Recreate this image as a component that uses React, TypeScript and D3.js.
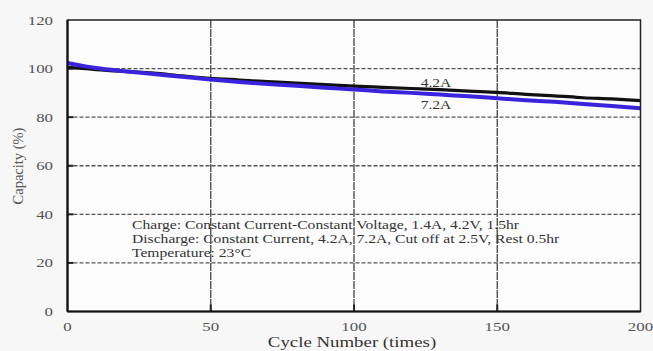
import * as d3 from "d3";
import React, { useEffect, useRef } from "react";

// cycle numbers sampled along the curves
const cycles = [0, 5, 10, 20, 30, 40, 50, 60, 70, 80, 90, 100, 110, 120, 130, 140, 150, 160, 170, 180, 190, 200];
// capacity (%) for the 4.2A discharge
const cap42 = [100.5, 100.1, 99.6, 98.8, 98.1, 97.0, 96.0, 95.3, 94.6, 94.0, 93.4, 92.8, 92.3, 91.8, 91.3, 90.7, 90.2, 89.4, 88.8, 88.0, 87.5, 86.8];
// capacity (%) for the 7.2A discharge
const cap72 = [102.3, 101.2, 100.2, 98.9, 97.8, 96.6, 95.5, 94.5, 93.6, 92.9, 92.1, 91.4, 90.6, 90.0, 89.3, 88.6, 87.8, 87.0, 86.3, 85.4, 84.6, 83.7];

const xTicks = [0, 50, 100, 150, 200];
const yTicks = [0, 20, 40, 60, 80, 100, 120];

const notes = [
  "Charge: Constant Current-Constant Voltage, 1.4A, 4.2V, 1.5hr",
  "Discharge: Constant Current, 4.2A, 7.2A, Cut off at 2.5V, Rest 0.5hr",
  "Temperature: 23\u00b0C",
];

// the original scan is stretched sideways a bit
const stretch = 1.25;

export default function App() {
  const svgRef = useRef(null);
  const width = 653;
  const height = 351;
  const margin = { top: 20, right: 12.5, bottom: 39.5, left: 67.5 };

  useEffect(() => {
    const svg = d3.select(svgRef.current);
    svg.selectAll("*").remove();

    const x = d3.scaleLinear().domain([0, 200]).range([margin.left, width - margin.right]);
    const y = d3.scaleLinear().domain([0, 120]).range([height - margin.bottom, margin.top]);

    svg.append("rect").attr("width", width).attr("height", height).attr("fill", "#f7f7f7");
    svg
      .append("rect")
      .attr("x", x(0))
      .attr("y", y(120))
      .attr("width", x(200) - x(0))
      .attr("height", y(0) - y(120))
      .attr("fill", "#fcfcfc");

    // grid
    const grid = svg.append("g");
    grid
      .selectAll("line.h")
      .data(yTicks.filter((d) => d > 0 && d < 120))
      .join("line")
      .attr("x1", x(0))
      .attr("x2", x(200))
      .attr("y1", (d) => y(d))
      .attr("y2", (d) => y(d))
      .attr("stroke", "#555")
      .attr("stroke-width", 1.3)
      .attr("stroke-dasharray", "4,2");
    grid
      .selectAll("line.v")
      .data(xTicks.filter((d) => d > 0 && d < 200))
      .join("line")
      .attr("x1", (d) => x(d))
      .attr("x2", (d) => x(d))
      .attr("y1", y(120))
      .attr("y2", y(0))
      .attr("stroke", "#444")
      .attr("stroke-width", 1.3)
      .attr("stroke-dasharray", "8,1");

    // short tick marks inside the frame
    grid
      .selectAll("line.yt")
      .data(yTicks.filter((d) => d > 0 && d < 120))
      .join("line")
      .attr("x1", x(0))
      .attr("x2", x(0) + 6)
      .attr("y1", (d) => y(d))
      .attr("y2", (d) => y(d))
      .attr("stroke", "#222")
      .attr("stroke-width", 2);
    grid
      .selectAll("line.xt")
      .data(xTicks.filter((d) => d > 0 && d < 200))
      .join("line")
      .attr("x1", (d) => x(d))
      .attr("x2", (d) => x(d))
      .attr("y1", y(0))
      .attr("y2", y(0) - 7)
      .attr("stroke", "#222")
      .attr("stroke-width", 2);

    // notes
    svg
      .append("g")
      .attr("transform", `translate(132,0) scale(${stretch},1)`)
      .selectAll("text")
      .data(notes)
      .join("text")
      .attr("x", 0)
      .attr("y", (d, i) => 229 + i * 13.8)
      .attr("font-family", "Liberation Serif, serif")
      .attr("font-size", 12.5)
      .attr("fill", "#333")
      .text((d) => d);

    // curves
    const line = d3
      .line<number>()
      .x((d, i) => x(cycles[i]))
      .y((d) => y(d))
      .curve(d3.curveMonotoneX);

    svg
      .append("path")
      .datum(cap42)
      .attr("d", line)
      .attr("fill", "none")
      .attr("stroke", "#111")
      .attr("stroke-width", 3.2);
    svg
      .append("path")
      .datum(cap72)
      .attr("d", line)
      .attr("fill", "none")
      .attr("stroke", "#3b22dc")
      .attr("stroke-width", 4);

    const tag = (label: string, cx: number, by: number) =>
      svg
        .append("text")
        .attr("transform", `translate(${cx},${by}) scale(${stretch},1)`)
        .attr("text-anchor", "middle")
        .attr("font-family", "Liberation Serif, serif")
        .attr("font-size", 12.5)
        .attr("fill", "#333")
        .text(label);
    tag("4.2A", 436, 87);
    tag("7.2A", 436, 109);

    // frame
    svg
      .append("rect")
      .attr("x", x(0))
      .attr("y", y(120))
      .attr("width", x(200) - x(0))
      .attr("height", y(0) - y(120))
      .attr("fill", "none")
      .attr("stroke", "#222")
      .attr("stroke-width", 1.5);
    svg
      .append("line")
      .attr("x1", x(0))
      .attr("x2", x(200))
      .attr("y1", y(0))
      .attr("y2", y(0))
      .attr("stroke", "#111")
      .attr("stroke-width", 2.2);
    svg
      .append("line")
      .attr("x1", x(0))
      .attr("x2", x(0))
      .attr("y1", y(0))
      .attr("y2", y(120))
      .attr("stroke", "#111")
      .attr("stroke-width", 2.2);

    // tick labels
    svg
      .append("g")
      .selectAll("text")
      .data(yTicks)
      .join("text")
      .attr("transform", (d) => `translate(53,${y(d) + 4.5}) scale(${stretch},1)`)
      .attr("text-anchor", "end")
      .attr("font-family", "Liberation Serif, serif")
      .attr("font-size", 13.5)
      .attr("fill", "#555")
      .text((d) => d);
    svg
      .append("g")
      .selectAll("text")
      .data(xTicks)
      .join("text")
      .attr("transform", (d) => `translate(${x(d)},331) scale(${stretch},1)`)
      .attr("text-anchor", "middle")
      .attr("font-family", "Liberation Serif, serif")
      .attr("font-size", 13.5)
      .attr("fill", "#555")
      .text((d) => d);

    svg
      .append("text")
      .attr("transform", `translate(352,347) scale(1.3,1)`)
      .attr("text-anchor", "middle")
      .attr("font-family", "Liberation Serif, serif")
      .attr("font-size", 14.5)
      .attr("fill", "#333")
      .text("Cycle Number (times)");
    svg
      .append("text")
      .attr("transform", "translate(23,166) rotate(-90)")
      .attr("text-anchor", "middle")
      .attr("font-family", "Liberation Serif, serif")
      .attr("font-size", 14.5)
      .attr("fill", "#555")
      .text("Capacity (%)");
  });

  return (
    <svg
      ref={svgRef}
      width={width}
      height={height}
      style={{ position: "absolute", left: 0, top: 0, display: "block" }}
    ></svg>
  );
}
